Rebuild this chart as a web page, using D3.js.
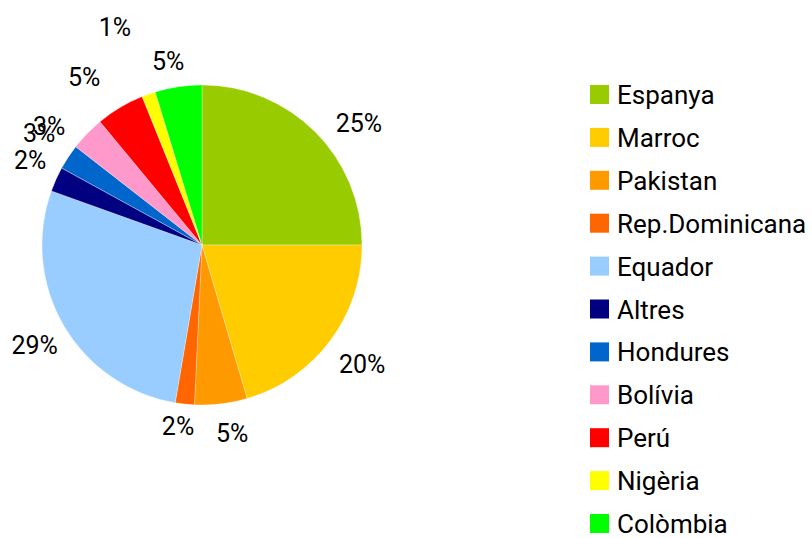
<!DOCTYPE html>
<html>
<head>
<meta charset="utf-8">
<script src="https://cdn.jsdelivr.net/npm/d3@7"></script>
<style>
  body { margin: 0; background: #fff; }
  svg text { font-family: Roboto, "DejaVu Sans", sans-serif; fill: #000; }
</style>
</head>
<body>
<svg id="chart" width="812" height="538"></svg>
<script>
// Countries, in the order the slices go round (clockwise from 12 o'clock)
var paisos = ["Espanya", "Marroc", "Pakistan", "Rep.Dominicana", "Equador", "Altres",
              "Hondures", "Bolívia", "Perú", "Nigèria", "Colòmbia"];
// Share of each slice (%)
var valors = [25, 20.45, 5.3, 1.93, 27.8, 2.5, 2.55, 3.47, 4.9, 1.38, 4.72];
// Label text as printed on the chart
var etiquetes = ["25%", "20%", "5%", "2%", "29%", "2%", "3%", "3%", "5%", "1%", "5%"];
var colors = ["#99CC00", "#FFCC00", "#FF9900", "#FF6600", "#99CCFF", "#000080",
              "#0066CC", "#FF99CC", "#FF0000", "#FFFF00", "#00FF00"];

// Small nudges so the labels sit where the original put them
var labelNudge = {
    "Espanya": [19, 16], "Marroc": [4, 2], "Pakistan": [7, -6], "Rep.Dominicana": [-3, -13],
    "Equador": [1, 2], "Altres": [6, -5], "Hondures": [0, -5], "Bolívia": [-13, 17],
    "Perú": [-18, 0], "Nigèria": [-22, -34], "Colòmbia": [-5, 9]
};

var svg = d3.select("#chart");
var cx = 202, cy = 245, radius = 160;

var color = d3.scaleOrdinal().domain(paisos).range(colors);

var pie = d3.pie().sort(null).value(function(d) { return d.v; });
var data = paisos.map(function(p, i) { return { nom: p, v: valors[i], txt: etiquetes[i] }; });
var arcs = pie(data);

var arc = d3.arc().innerRadius(0).outerRadius(radius);
var labelArc = d3.arc().innerRadius(195).outerRadius(195);

var g = svg.append("g").attr("transform", "translate(" + cx + "," + cy + ")");

g.selectAll("path").data(arcs).enter().append("path")
    .attr("d", arc)
    .style("fill", function(d) { return color(d.data.nom); })
    .style("stroke", "#fff")
    .style("stroke-width", 0.3);

// Percent labels
g.selectAll("text.pct").data(arcs).enter().append("text")
    .attr("class", "pct")
    .attr("x", function(d) { return labelArc.centroid(d)[0] + labelNudge[d.data.nom][0]; })
    .attr("y", function(d) { return labelArc.centroid(d)[1] + labelNudge[d.data.nom][1]; })
    .attr("dy", "0.36em")
    .attr("text-anchor", "middle")
    .style("font-size", "25px")
    .text(function(d) { return d.data.txt; });

// Legend
var legendY = d3.scalePoint().domain(paisos).range([104, 533]);
var legend = svg.append("g");
var items = legend.selectAll("g").data(paisos).enter().append("g")
    .attr("transform", function(d) { return "translate(590," + legendY(d) + ")"; });
items.append("rect")
    .attr("x", 0).attr("y", -19)
    .attr("width", 19).attr("height", 19)
    .style("fill", function(d) { return color(d); });
items.append("text")
    .attr("x", 27).attr("y", 0)
    .style("font-size", "26px")
    .text(function(d) { return d; });
</script>
</body>
</html>
